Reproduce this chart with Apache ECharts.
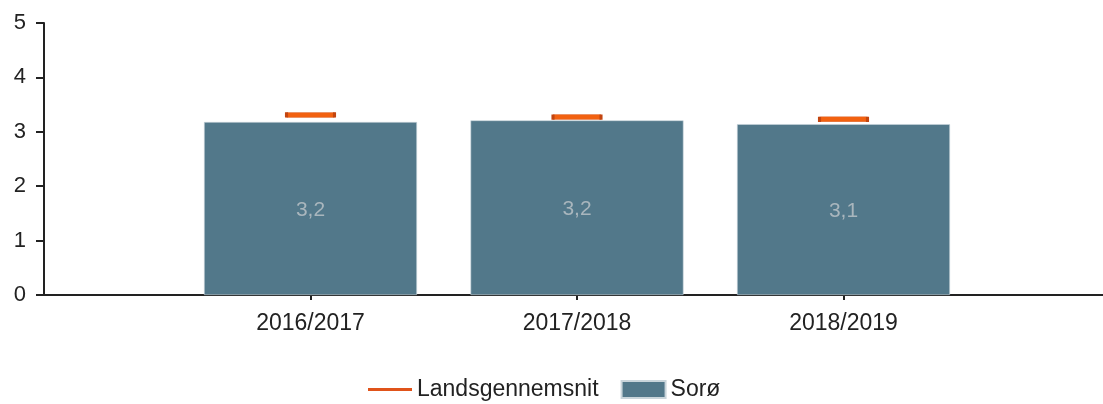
<!DOCTYPE html>
<html>
<head>
<meta charset="utf-8">
<script src="https://cdn.jsdelivr.net/npm/echarts@6/dist/echarts.min.js"></script>
<style>
  html, body { margin: 0; padding: 0; background: #fff; }
  #chart { width: 1103px; height: 404px; }
</style>
</head>
<body>
<div id="chart"></div>
<script>
// empty slots at both ends keep the bars where the original puts them
var categories = ['', '2016/2017', '2017/2018', '2018/2019', ''];
var soroValues = ['-', 3.18, 3.21, 3.14, '-'];
var landsValues = ['-', 3.31, 3.27, 3.23, '-'];
var yTicks = [0, 1, 2, 3, 4, 5];

var fontName = '"Liberation Sans", Arial, sans-serif';

var chart = echarts.init(document.getElementById('chart'));

var option = {
	animation: false,
	textStyle: { fontFamily: fontName },
	grid: {
		left: 44,
		top: 23,
		width: 1066,
		height: 272,
		outerBoundsMode: 'none'
	},
	legend: {
		left: 363,
		top: 373,
		itemWidth: 44,
		itemHeight: 17,
		itemGap: 22,
		textStyle: { fontSize: 23, color: '#222', fontFamily: fontName },
		data: [
			{ name: 'Landsgennemsnit', icon: 'path://M0,0 L44,0 L44,3 L0,3 Z',
				itemStyle: { color: '#e0531a', borderWidth: 0 } },
			{ name: 'Sorø', icon: 'rect' }
		]
	},
	xAxis: {
		type: 'category',
		boundaryGap: false,
		data: categories,
		axisLine: { lineStyle: { color: '#222', width: 2 } },
		axisTick: {
			length: 5,
			lineStyle: { color: '#222', width: 2 },
			interval: function (index, value) { return value !== ''; }
		},
		axisLabel: { fontSize: 23, color: '#222', margin: 17, interval: 0 },
		splitLine: { show: false }
	},
	yAxis: {
		type: 'value',
		min: yTicks[0],
		max: yTicks[yTicks.length - 1],
		interval: 1,
		axisLine: { show: true, lineStyle: { color: '#222', width: 2 } },
		axisTick: { show: true, length: 8, lineStyle: { color: '#222', width: 2 } },
		axisLabel: { fontSize: 22, color: '#222', margin: 18 },
		splitLine: { show: false }
	},
	series: [
		{
			name: 'Sorø',
			type: 'bar',
			barWidth: 213,
			data: soroValues,
			itemStyle: { color: '#52788a', borderColor: '#c9d5db', borderWidth: 0.6 },
			label: {
				show: true,
				position: 'inside',
				offset: [0, 2],
				color: '#a9b6bd',
				fontSize: 21,
				formatter: function (p) {
					return p.value.toFixed(1).replace('.', ',');
				}
			}
		},
		{
			name: 'Landsgennemsnit',
			type: 'scatter',
			symbol: 'rect',
			symbolSize: [48, 5],
			z: 5,
			data: landsValues,
			itemStyle: { color: '#f26110', borderColor: '#c24510', borderWidth: 1, opacity: 1 }
		}
	]
};

chart.setOption(option);
</script>
</body>
</html>
